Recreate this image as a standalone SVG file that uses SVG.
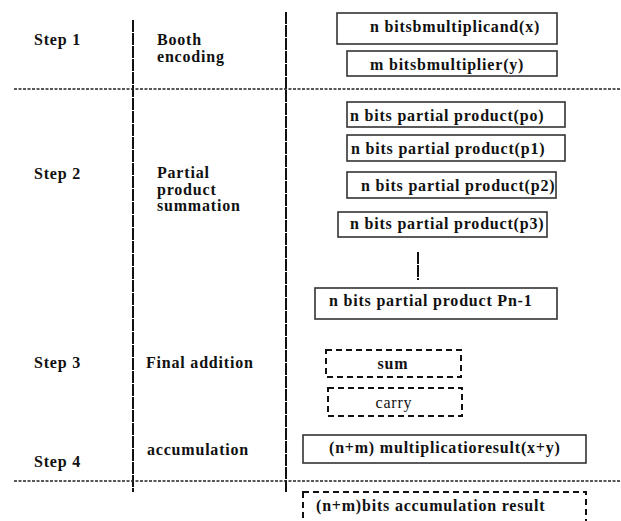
<svg xmlns="http://www.w3.org/2000/svg" width="621" height="521" viewBox="0 0 621 521">
  <style>
    .lbl { font-family: "Liberation Serif", "Times New Roman", serif; font-weight: bold; font-size: 16px; letter-spacing: 0.8px; fill: #111; }
    .reg { font-weight: normal; }
    .box { fill: #fff; stroke: #333; stroke-width: 1.6; }
    .dbox { fill: #fff; stroke: #111; stroke-width: 2; stroke-dasharray: 6 4; }
    .vline { stroke: #111; stroke-width: 2; stroke-dasharray: 12 1; fill: none; }
    .hline { stroke: #222; stroke-width: 1.6; stroke-dasharray: 3 1.5; fill: none; }
  </style>

  <rect width="621" height="521" fill="#fff"/>

  <!-- column and row dividers -->
  <g id="connectors">
    <line class="vline" x1="133" y1="20" x2="133" y2="492"/>
    <line class="vline" x1="286" y1="12" x2="286" y2="492"/>
    <line class="hline" x1="14" y1="89" x2="621" y2="89"/>
    <line class="hline" x1="14" y1="481" x2="621" y2="481"/>
    <line class="vline" x1="418" y1="252" x2="418" y2="280"/>
  </g>

  <!-- step labels -->
  <g id="step1">
    <text class="lbl" x="34" y="45">Step 1</text>
    <text class="lbl" x="157" y="45">Booth</text>
    <text class="lbl" x="157" y="62">encoding</text>
  </g>
  <g id="step2">
    <text class="lbl" x="34" y="179">Step 2</text>
    <text class="lbl" x="157" y="178">Partial</text>
    <text class="lbl" x="157" y="195">product</text>
    <text class="lbl" x="157" y="211">summation</text>
  </g>
  <g id="step3">
    <text class="lbl" x="34" y="368">Step 3</text>
    <text class="lbl" x="146" y="368">Final addition</text>
  </g>
  <g id="step4">
    <text class="lbl" x="34" y="467">Step 4</text>
    <text class="lbl" x="147" y="455">accumulation</text>
  </g>

  <!-- operand boxes -->
  <g id="multiplicand">
    <rect class="box" x="337" y="13" width="220" height="31"/>
    <text class="lbl" x="370" y="32">n bitsbmultiplicand(x)</text>
  </g>
  <g id="multiplier">
    <rect class="box" x="347" y="51" width="210" height="25"/>
    <text class="lbl" x="370" y="70">m bitsbmultiplier(y)</text>
  </g>

  <!-- partial products -->
  <g id="pp0">
    <rect class="box" x="347" y="102" width="218" height="25"/>
    <text class="lbl" x="350" y="121">n bits partial product(po)</text>
  </g>
  <g id="pp1">
    <rect class="box" x="347" y="135" width="218" height="26"/>
    <text class="lbl" x="351" y="154">n bits partial product(p1)</text>
  </g>
  <g id="pp2">
    <rect class="box" x="347" y="172" width="209" height="26"/>
    <text class="lbl" x="361" y="191">n bits partial product(p2)</text>
  </g>
  <g id="pp3">
    <rect class="box" x="338" y="212" width="209" height="25"/>
    <text class="lbl" x="350" y="229">n bits partial product(p3)</text>
  </g>
  <g id="ppn">
    <rect class="box" x="315" y="288" width="242" height="31"/>
    <text class="lbl" x="329" y="306">n bits partial product Pn-1</text>
  </g>

  <!-- final addition -->
  <g id="sum">
    <rect class="dbox" x="326" y="350" width="135" height="27"/>
    <text class="lbl" x="393" y="369" text-anchor="middle">sum</text>
  </g>
  <g id="carry">
    <rect class="dbox" x="328" y="388" width="134" height="28"/>
    <text class="lbl reg" x="394" y="408" text-anchor="middle">carry</text>
  </g>

  <!-- results -->
  <g id="product">
    <rect class="box" x="303" y="435" width="283" height="28"/>
    <text class="lbl" x="329" y="453">(n+m) multiplicatioresult(x+y)</text>
  </g>
  <g id="accumulated">
    <rect class="dbox" x="303" y="492" width="283" height="40"/>
    <text class="lbl" x="316" y="511">(n+m)bits accumulation result</text>
  </g>
</svg>
